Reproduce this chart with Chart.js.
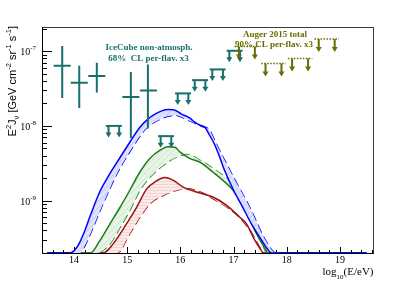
<!DOCTYPE html>
<html>
<head>
<meta charset="utf-8">
<script src="https://cdn.jsdelivr.net/npm/chart.js@4.4.1/dist/chart.umd.min.js"></script>
<style>
  html, body { margin: 0; padding: 0; background: #fff; }
</style>
</head>
<body>
<canvas id="c" width="415" height="281"></canvas>
<script>
// Valores (x = log10(E/eV), y = E^2 J em GeV cm^-2 sr^-1 s^-1)
const floorY = 2e-10;

const blueSolidX = [13.50, 13.93, 14.01, 14.09, 14.19, 14.31, 14.49, 14.68, 14.87, 15.05, 15.24, 15.39, 15.49, 15.65, 15.77, 15.87, 16.02, 16.18, 16.27, 16.37, 16.46, 16.55, 16.65, 16.74, 16.83, 17.00, 17.17, 17.34, 17.53, 17.64, 17.71, 19.50];
const blueSolidY = [2e-10, 2e-10, 2.17e-10, 2.61e-10, 3.76e-10, 6.38e-10, 1.34e-9, 2.33e-9, 3.81e-9, 6.05e-9, 9.6e-9, 1.23e-8, 1.39e-8, 1.59e-8, 1.66e-8, 1.65e-8, 1.44e-8, 1.27e-8, 1.12e-8, 1.02e-8, 9.6e-9, 7.5e-9, 5.52e-9, 3.81e-9, 2.55e-9, 1.38e-9, 8.2e-10, 4.83e-10, 2.95e-10, 2.24e-10, 2e-10, 2e-10];
const blueDashX = [13.50, 14.12, 14.21, 14.52, 14.81, 15.09, 15.34, 15.65, 15.90, 16.15, 16.40, 16.55, 16.65, 16.96, 17.30, 17.60, 17.80, 19.50];
const blueDashY = [2e-10, 2e-10, 2.53e-10, 8.24e-10, 2.31e-9, 5.02e-9, 9.0e-9, 1.26e-8, 1.39e-8, 1.19e-8, 9.9e-9, 8.76e-9, 6.24e-9, 2.31e-9, 8.24e-10, 2.95e-10, 2e-10, 2e-10];

const greenSolidX = [13.50, 14.31, 14.49, 14.68, 14.87, 15.05, 15.24, 15.43, 15.62, 15.77, 15.90, 15.99, 16.18, 16.37, 16.61, 16.87, 16.99, 17.11, 17.24, 17.43, 17.61, 17.64, 19.50];
const greenSolidY = [2e-10, 2e-10, 2.95e-10, 4.93e-10, 8.24e-10, 1.38e-9, 2.42e-9, 3.70e-9, 4.73e-9, 5.27e-9, 5.19e-9, 4.49e-9, 3.66e-9, 3.27e-9, 2.42e-9, 1.69e-9, 1.38e-9, 1.01e-9, 7.06e-10, 3.63e-10, 2.17e-10, 2e-10, 2e-10];
const greenDashX = [13.50, 14.43, 14.68, 14.87, 15.05, 15.24, 15.43, 15.68, 15.93, 16.12, 16.37, 16.61, 16.93, 17.18, 17.43, 17.64, 19.50];
const greenDashY = [2e-10, 2e-10, 2.67e-10, 4.45e-10, 7.43e-10, 1.38e-9, 2.07e-9, 2.98e-9, 3.85e-9, 4.14e-9, 3.47e-9, 2.69e-9, 1.78e-9, 9.14e-10, 4.45e-10, 2e-10, 2e-10];

const redSolidX = [13.50, 14.55, 14.74, 14.99, 15.18, 15.37, 15.52, 15.71, 15.87, 16.05, 16.30, 16.61, 16.87, 17.11, 17.24, 17.40, 17.52, 17.56, 19.50];
const redSolidY = [2e-10, 2e-10, 2.67e-10, 4.93e-10, 8.24e-10, 1.45e-9, 1.78e-9, 2.04e-9, 1.87e-9, 1.52e-9, 1.31e-9, 1.12e-9, 8.67e-10, 6.05e-10, 4.93e-10, 2.95e-10, 2.17e-10, 2e-10, 2e-10];
const redDashX = [13.50, 14.81, 15.05, 15.24, 15.43, 15.68, 15.93, 16.12, 16.37, 16.61, 16.87, 17.11, 17.33, 17.49, 17.56, 19.50];
const redDashY = [2e-10, 2e-10, 3.63e-10, 6.05e-10, 9.14e-10, 1.18e-9, 1.38e-9, 1.45e-9, 1.31e-9, 1.07e-9, 8.24e-10, 6.05e-10, 3.81e-10, 2.4e-10, 2e-10, 2e-10];

// IceCube (pontos com barras de erro)
const icX   = [13.78, 14.10, 14.43, 15.07, 15.39];
const icXlo = [13.62, 13.94, 14.27, 14.91, 15.24];
const icXhi = [13.94, 14.26, 14.59, 15.23, 15.56];
const icY   = [6.35e-8, 3.77e-8, 4.63e-8, 2.44e-8, 2.98e-8];
const icYlo = [2.37e-8, 1.74e-8, 2.8e-8, 6.9e-9, 9.2e-9];
const icYhi = [1.17e-7, 6.35e-8, 6.97e-8, 5.24e-8, 6.64e-8];

// IceCube limites superiores
const icUlX = [14.75, 15.73, 16.05, 16.37, 16.70, 17.02];
const icUlY = [1.0e-8, 7.3e-9, 2.72e-8, 4.09e-8, 5.69e-8, 1.01e-7];

// Auger 2015 limites superiores
const augerX = [17.25, 17.75, 18.25, 18.75];
const augerY = [1.15e-7, 6.84e-8, 7.98e-8, 1.45e-7];

// Eixos
const xTickValues = [14, 15, 16, 17, 18, 19];
const xTickLabels = ['14', '15', '16', '17', '18', '19'];
const yTickValues = [1e-9, 1e-8, 1e-7];
const yTickLabels = ['-9', '-8', '-7'];

const teal = '#17706f';
const olive = '#6b6b00';
const serif = '"Liberation Serif", "DejaVu Serif", serif';
const sans = '"Liberation Sans", Arial, sans-serif';

function hatch(bg, line, kind) {
    const c = document.createElement('canvas');
    c.width = 6; c.height = 6;
    const g = c.getContext('2d');
    g.fillStyle = bg;
    g.fillRect(0, 0, 6, 6);
    g.strokeStyle = line;
    g.lineWidth = 0.7;
    g.beginPath();
    if (kind === 'h') {
        g.moveTo(0, 1.5); g.lineTo(6, 1.5);
        g.moveTo(0, 4.5); g.lineTo(6, 4.5);
    } else {
        g.moveTo(-1, 7); g.lineTo(7, -1);
        g.moveTo(-1, 1); g.lineTo(1, -1);
        g.moveTo(5, 7); g.lineTo(7, 5);
    }
    g.stroke();
    return g.createPattern(c, 'repeat');
}

function curve(xs, ys, color, dashed, fillBg) {
    return {
        data: xs.map((x, i) => ({ x: x, y: ys[i] })),
        borderColor: color,
        borderWidth: 1.5,
        borderDash: dashed ? [9, 4] : [],
        pointRadius: 0,
        cubicInterpolationMode: 'monotone',
        fill: fillBg ? '+1' : false,
        backgroundColor: fillBg || 'transparent'
    };
}

function drawRich(ctx, parts, x, y, align) {
    // parts: [texto, tamanho, deslocamento vertical, fonte]
    let total = 0;
    parts.forEach(p => { ctx.font = p[1] + 'px ' + p[3]; total += ctx.measureText(p[0]).width; });
    let cx = align === 'right' ? x - total : x;
    parts.forEach(p => {
        ctx.font = p[1] + 'px ' + p[3];
        ctx.fillText(p[0], cx, y + p[2]);
        cx += ctx.measureText(p[0]).width;
    });
}

function arrowDown(ctx, x, y0, len) {
    ctx.beginPath();
    ctx.moveTo(x, y0);
    ctx.lineTo(x, y0 + len - 4);
    ctx.stroke();
    ctx.beginPath();
    ctx.moveTo(x - 3, y0 + len - 5);
    ctx.lineTo(x + 3, y0 + len - 5);
    ctx.lineTo(x, y0 + len);
    ctx.closePath();
    ctx.fill();
}

const rootAxes = {
    id: 'rootAxes',
    beforeDatasetsDraw(chart) {
        const { ctx, chartArea: a, scales: { x, y } } = chart;
        ctx.save();
        ctx.lineWidth = 1;
        ctx.strokeStyle = '#3c3c3c';
        ctx.strokeRect(a.left + 0.5, a.top + 0.5, a.right - a.left, a.bottom - a.top);
        ctx.strokeStyle = '#000';
        ctx.beginPath();
        ctx.moveTo(a.left + 0.5, a.top);
        ctx.lineTo(a.left + 0.5, a.bottom + 0.5);
        ctx.lineTo(a.right + 0.5, a.bottom + 0.5);
        // ticks x (menores a cada 0.2)
        for (let k = 1; k < 32; k++) {
            const v = 13.4 + k * 0.2;
            if (v > x.max) break;
            const px = Math.round(x.getPixelForValue(v)) + 0.5;
            const major = Math.abs(v - Math.round(v)) < 1e-6;
            ctx.moveTo(px, a.bottom);
            ctx.lineTo(px, a.bottom - (major ? 6 : 3));
        }
        // ticks y (log)
        for (let e = -10; e <= -7; e++) {
            for (let m = 1; m <= 9; m++) {
                const v = m * Math.pow(10, e);
                if (v <= y.min || v >= y.max) continue;
                const py = Math.round(y.getPixelForValue(v)) + 0.5;
                ctx.moveTo(a.left, py);
                ctx.lineTo(a.left + (m === 1 ? 10 : 5), py);
            }
        }
        ctx.stroke();

        // rótulos
        ctx.fillStyle = '#000';
        ctx.textBaseline = 'alphabetic';
        ctx.font = '10px ' + serif;
        ctx.textAlign = 'center';
        xTickValues.forEach((v, i) => {
            ctx.fillText(xTickLabels[i], x.getPixelForValue(v), a.bottom + 9.5);
        });
        ctx.textAlign = 'left';
        yTickValues.forEach((v, i) => {
            const py = y.getPixelForValue(v);
            drawRich(ctx, [['10', 10, 0, serif], [yTickLabels[i], 7, -5, serif]], 36, py + 4, 'right');
        });

        // título eixo x
        drawRich(ctx, [['log', 11, 0, serif], ['10', 7, 3.5, serif], ['(E/eV)', 11, 0, serif]], a.right + 0.5, 275, 'right');

        // título eixo y
        ctx.save();
        ctx.translate(16, a.top - 1);
        ctx.rotate(-Math.PI / 2);
        drawRich(ctx, [
            ['E', 11, 0, sans], ['2', 7.5, -5, sans], ['J', 11, 0, sans], ['\u03bd', 7.5, 3, sans],
            [' [GeV cm', 11, 0, sans], ['-2', 7.5, -5, sans], [' sr', 11, 0, sans], ['-1', 7.5, -5, sans],
            [' s', 11, 0, sans], ['-1', 7.5, -5, sans], [']', 11, 0, sans]
        ], 0, 0, 'right');
        ctx.restore();
        ctx.restore();
    },
    afterDatasetsDraw(chart) {
        const { ctx, scales: { x, y } } = chart;
        ctx.save();

        // IceCube pontos
        ctx.strokeStyle = teal;
        ctx.fillStyle = teal;
        ctx.lineWidth = 2;
        ctx.beginPath();
        icX.forEach((v, i) => {
            const px = x.getPixelForValue(v);
            const py = y.getPixelForValue(icY[i]);
            ctx.moveTo(px, y.getPixelForValue(icYlo[i]));
            ctx.lineTo(px, y.getPixelForValue(icYhi[i]));
            ctx.moveTo(x.getPixelForValue(icXlo[i]), py);
            ctx.lineTo(x.getPixelForValue(icXhi[i]), py);
        });
        ctx.stroke();

        // IceCube limites
        icUlX.forEach((v, i) => {
            const py = y.getPixelForValue(icUlY[i]);
            ctx.beginPath();
            ctx.moveTo(x.getPixelForValue(v - 0.15), py);
            ctx.lineTo(x.getPixelForValue(v + 0.15), py);
            ctx.stroke();
            arrowDown(ctx, x.getPixelForValue(v - 0.1), py, 11.5);
            arrowDown(ctx, x.getPixelForValue(v + 0.1), py, 11.5);
        });

        // Auger limites
        ctx.strokeStyle = olive;
        ctx.fillStyle = olive;
        augerX.forEach((v, i) => {
            const py = y.getPixelForValue(augerY[i]);
            ctx.save();
            ctx.lineWidth = 1.5;
            ctx.setLineDash([1.5, 1.5]);
            ctx.beginPath();
            ctx.moveTo(x.getPixelForValue(v - 0.23), py);
            ctx.lineTo(x.getPixelForValue(v + 0.23), py);
            ctx.stroke();
            ctx.restore();
            ctx.lineWidth = 2;
            arrowDown(ctx, x.getPixelForValue(v - 0.15), py, 13);
            arrowDown(ctx, x.getPixelForValue(v + 0.15), py, 13);
        });

        // textos
        ctx.textAlign = 'center';
        ctx.font = 'bold 9px ' + serif;
        ctx.fillStyle = teal;
        ctx.fillText('IceCube non-atmosph.', 149, 49.5);
        ctx.fillText('68%  CL per-flav. x3', 148.5, 61);
        ctx.fillStyle = olive;
        ctx.fillText('Auger 2015 total', 275, 36.5);
        ctx.fillText('90% CL per-flav. x3', 274, 46.5);
        ctx.restore();
    }
};

new Chart(document.getElementById('c'), {
    type: 'line',
    data: {
        datasets: [
            curve(blueSolidX, blueSolidY, '#0000ff', false, hatch('#dfe1fc', '#bcc1f6', 'd')),
            curve(blueDashX, blueDashY, '#0000ff', true),
            curve(greenSolidX, greenSolidY, '#1a7d1a', false, hatch('#e6f3e6', '#c4e2c4', 'd')),
            curve(greenDashX, greenDashY, '#1a7d1a', true),
            curve(redSolidX, redSolidY, '#9b1010', false, hatch('#fbeaea', '#f0c8c8', 'h')),
            curve(redDashX, redDashY, '#9b1010', true)
        ]
    },
    options: {
        responsive: false,
        animation: false,
        devicePixelRatio: 1,
        layout: { padding: { left: 42, top: 27, right: 42, bottom: 28 } },
        scales: {
            x: { type: 'linear', min: 13.4, max: 19.62, display: false },
            y: { type: 'logarithmic', min: floorY, max: 2.1e-7, display: false }
        },
        plugins: {
            legend: { display: false },
            tooltip: { enabled: false }
        }
    },
    plugins: [rootAxes]
});
</script>
</body>
</html>
